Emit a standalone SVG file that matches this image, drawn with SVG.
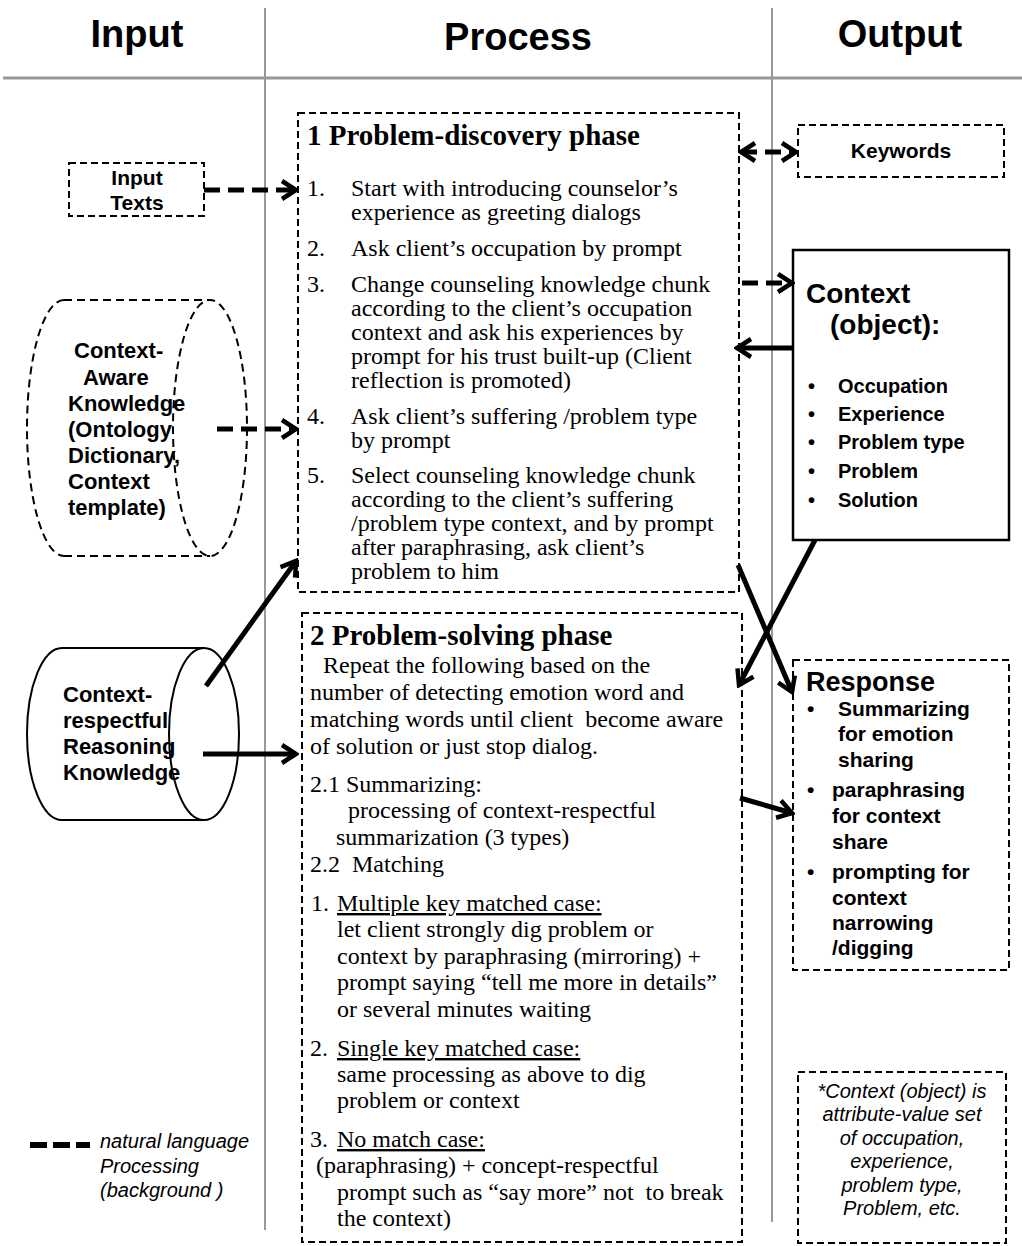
<svg xmlns="http://www.w3.org/2000/svg" width="1022" height="1246" viewBox="0 0 1022 1246">
  <style>
    .hdr { font-family: "Liberation Sans", Arial, sans-serif; font-weight: bold; font-size: 38px; text-anchor: middle; fill: #000; }
    .sans { font-family: "Liberation Sans", Arial, sans-serif; font-weight: bold; fill: #000; }
    .ital { font-family: "Liberation Sans", Arial, sans-serif; font-style: italic; fill: #000; font-size: 20px; }
    .serif { font-family: "Liberation Serif", "Times New Roman", serif; font-size: 24px; fill: #000; }
    .ttl { font-family: "Liberation Serif", "Times New Roman", serif; font-size: 29px; font-weight: bold; fill: #000; }
    .grid { stroke: #999; fill: none; }
    .dbox { fill: #fff; stroke: #000; stroke-width: 2; stroke-dasharray: 7 4; }
    .sbox { fill: #fff; stroke: #000; stroke-width: 2.5; }
    .solid { stroke: #000; stroke-width: 5; fill: none; marker-end: url(#head); }
    .dash { stroke: #000; stroke-width: 5; fill: none; stroke-dasharray: 16 8; marker-end: url(#head); }
    .u { text-decoration: underline; }
  </style>
  <defs>
    <marker id="head" markerUnits="userSpaceOnUse" viewBox="0 0 22 22" refX="19" refY="11" markerWidth="22" markerHeight="22" orient="auto-start-reverse">
      <path d="M5,2 L19,11 L5,20" fill="none" stroke="#000" stroke-width="4.5"/>
    </marker>
  </defs>

  <!-- column headers and dividers -->
  <g id="columns">
    <line class="grid" x1="3" y1="78" x2="1022" y2="78" stroke-width="3"/>
    <line class="grid" x1="265" y1="8" x2="265" y2="1230" stroke-width="2"/>
    <line class="grid" x1="772" y1="8" x2="772" y2="1222" stroke-width="2"/>
    <text class="hdr" x="137" y="47">Input</text>
    <text class="hdr" x="518" y="50">Process</text>
    <text class="hdr" x="900" y="47">Output</text>
  </g>

  <!-- input column -->
  <g id="input-texts">
    <rect class="dbox" x="69" y="163" width="135" height="53"/>
    <text class="sans" font-size="21" text-anchor="middle" x="137" y="185">Input</text>
    <text class="sans" font-size="21" text-anchor="middle" x="137" y="210">Texts</text>
  </g>

  <g id="context-aware-knowledge">
    <path d="M64,300 L210,300 M64,556 L210,556 M64,300 A37,128 0 0 0 64,556" fill="none" stroke="#000" stroke-width="2" stroke-dasharray="8 5"/>
    <ellipse cx="210" cy="428" rx="37" ry="128" fill="none" stroke="#000" stroke-width="2" stroke-dasharray="8 5"/>
    <g class="sans" font-size="22">
      <text x="74" y="358">Context-</text>
      <text x="83" y="385">Aware</text>
      <text x="68" y="411">Knowledge</text>
      <text x="68" y="437">(Ontology</text>
      <text x="68" y="463">Dictionary,</text>
      <text x="68" y="489">Context</text>
      <text x="68" y="515">template)</text>
    </g>
  </g>

  <g id="reasoning-knowledge">
    <path d="M62,648 L204,648 L204,820 L62,820 A35,86 0 0 1 62,648 Z" fill="#fff" stroke="#000" stroke-width="2"/>
    <ellipse cx="204" cy="734" rx="35" ry="86" fill="#fff" stroke="#000" stroke-width="2"/>
    <g class="sans" font-size="22">
      <text x="63" y="702">Context-</text>
      <text x="63" y="728">respectful</text>
      <text x="63" y="754">Reasoning</text>
      <text x="63" y="780">Knowledge</text>
    </g>
  </g>

  <g id="legend">
    <line x1="30" y1="1145" x2="90" y2="1145" stroke="#000" stroke-width="6" stroke-dasharray="17 6"/>
    <text class="ital" x="100" y="1148">natural language</text>
    <text class="ital" x="100" y="1173">Processing</text>
    <text class="ital" x="100" y="1197">(background )</text>
  </g>

  <!-- process column -->
  <g id="problem-discovery">
    <rect class="dbox" x="298" y="113" width="441" height="479"/>
    <text class="ttl" x="307" y="145">1 Problem-discovery phase</text>
    <g class="serif">
      <text x="307" y="196">1.</text>
      <text x="351" y="196">Start with introducing counselor’s</text>
      <text x="351" y="220">experience as greeting dialogs</text>
      <text x="307" y="256">2.</text>
      <text x="351" y="256">Ask client’s occupation by prompt</text>
      <text x="307" y="292">3.</text>
      <text x="351" y="292">Change counseling knowledge chunk</text>
      <text x="351" y="316">according to the client’s occupation</text>
      <text x="351" y="340">context and ask his experiences by</text>
      <text x="351" y="364">prompt for his trust built-up (Client</text>
      <text x="351" y="388">reflection is promoted)</text>
      <text x="307" y="424">4.</text>
      <text x="351" y="424">Ask client’s suffering /problem type</text>
      <text x="351" y="448">by prompt</text>
      <text x="307" y="483">5.</text>
      <text x="351" y="483">Select counseling knowledge chunk</text>
      <text x="351" y="507">according to the client’s suffering</text>
      <text x="351" y="531">/problem type context, and by prompt</text>
      <text x="351" y="555">after paraphrasing, ask client’s</text>
      <text x="351" y="579">problem to him</text>
    </g>
  </g>

  <g id="problem-solving">
    <rect class="dbox" x="302" y="613" width="440" height="629"/>
    <text class="ttl" x="310" y="645">2 Problem-solving phase</text>
    <g class="serif">
      <text x="323" y="673">Repeat the following based on the</text>
      <text x="310" y="700">number of detecting emotion word and</text>
      <text x="310" y="727">matching words until client&#160; become aware</text>
      <text x="310" y="754">of solution or just stop dialog.</text>
      <text x="310" y="792">2.1 Summarizing:</text>
      <text x="348" y="818">processing of context-respectful</text>
      <text x="336" y="845">summarization (3 types)</text>
      <text x="310" y="872">2.2&#160; Matching</text>
      <text x="311" y="911">1.</text>
      <text class="u" x="337" y="911">Multiple key matched case:</text>
      <text x="337" y="937">let client strongly dig problem or</text>
      <text x="337" y="964">context by paraphrasing (mirroring) +</text>
      <text x="337" y="990">prompt saying “tell me more in details”</text>
      <text x="337" y="1017">or several minutes waiting</text>
      <text x="310" y="1056">2.</text>
      <text class="u" x="337" y="1056">Single key matched case:</text>
      <text x="337" y="1082">same processing as above to dig</text>
      <text x="337" y="1108">problem or context</text>
      <text x="310" y="1147">3.</text>
      <text class="u" x="337" y="1147">No match case:</text>
      <text x="316" y="1173">(paraphrasing) + concept-respectful</text>
      <text x="337" y="1200">prompt such as “say more” not&#160; to break</text>
      <text x="337" y="1226">the context)</text>
    </g>
  </g>

  <!-- output column -->
  <g id="keywords">
    <rect class="dbox" x="798" y="125" width="206" height="52"/>
    <text class="sans" font-size="21" text-anchor="middle" x="901" y="158">Keywords</text>
  </g>

  <g id="context-object">
    <rect class="sbox" x="793" y="250" width="216" height="290"/>
    <text class="sans" font-size="28" x="806" y="303">Context</text>
    <text class="sans" font-size="28" x="830" y="334">(object):</text>
    <g class="sans" font-size="20">
      <text x="808" y="393">•</text><text x="838" y="393">Occupation</text>
      <text x="808" y="421">•</text><text x="838" y="421">Experience</text>
      <text x="808" y="449">•</text><text x="838" y="449">Problem type</text>
      <text x="808" y="478">•</text><text x="838" y="478">Problem</text>
      <text x="808" y="507">•</text><text x="838" y="507">Solution</text>
    </g>
  </g>

  <g id="response">
    <rect class="dbox" x="793" y="660" width="216" height="310"/>
    <text class="sans" font-size="27" x="806" y="691">Response</text>
    <g class="sans" font-size="21">
      <text x="807" y="716">•</text>
      <text x="838" y="716">Summarizing</text>
      <text x="838" y="741">for emotion</text>
      <text x="838" y="767">sharing</text>
      <text x="807" y="797">•</text>
      <text x="832" y="797">paraphrasing</text>
      <text x="832" y="823">for context</text>
      <text x="832" y="849">share</text>
      <text x="807" y="879">•</text>
      <text x="832" y="879">prompting for</text>
      <text x="832" y="905">context</text>
      <text x="832" y="930">narrowing</text>
      <text x="832" y="955">/digging</text>
    </g>
  </g>

  <g id="note">
    <rect class="dbox" x="798" y="1072" width="208" height="171"/>
    <g class="ital" text-anchor="middle">
      <text x="902" y="1098">*Context (object) is</text>
      <text x="902" y="1121">attribute-value set</text>
      <text x="902" y="1145">of occupation,</text>
      <text x="902" y="1168">experience,</text>
      <text x="902" y="1192">problem type,</text>
      <text x="902" y="1215">Problem, etc.</text>
    </g>
  </g>

  <!-- connectors -->
  <g id="connectors">
    <line class="dash" x1="204" y1="190" x2="296" y2="190"/>
    <line class="dash" x1="217" y1="429" x2="296" y2="429"/>
    <line class="solid" x1="206" y1="686" x2="296" y2="561"/>
    <line class="solid" x1="203" y1="754" x2="296" y2="754"/>
    <line class="dash" x1="741" y1="152" x2="796" y2="152" stroke-dasharray="12 6" marker-start="url(#head)"/>
    <line class="dash" x1="742" y1="283" x2="792" y2="283" stroke-dasharray="14 8"/>
    <line class="solid" x1="793" y1="348" x2="737" y2="348"/>
    <line class="solid" x1="738" y1="565" x2="792" y2="692"/>
    <line class="solid" x1="815" y1="540" x2="739" y2="685"/>
    <line class="solid" x1="740" y1="798" x2="792" y2="813"/>
  </g>
</svg>
